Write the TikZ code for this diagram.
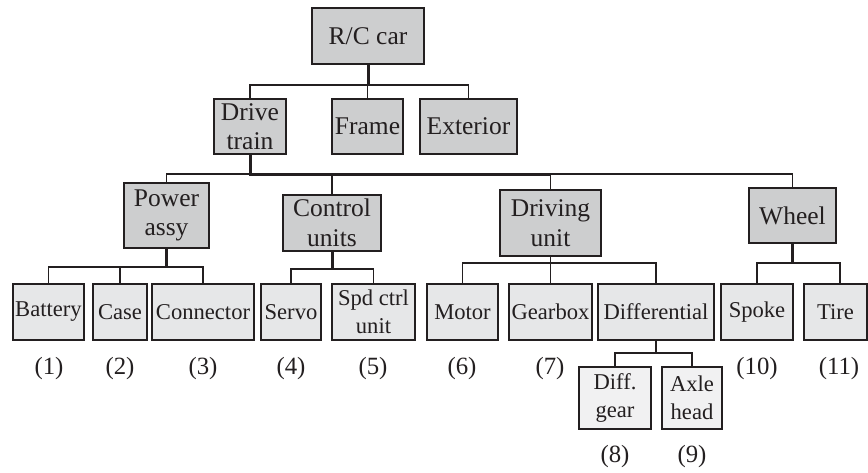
\documentclass[tikz,border=0pt]{standalone}
\usepackage{fontspec}
\setmainfont{Liberation Serif}
\definecolor{ink}{HTML}{231F20}
\definecolor{darkfill}{HTML}{CDCECF}
\definecolor{lightfill}{HTML}{E6E7E8}
\definecolor{palefill}{HTML}{F1F1F2}
\tikzset{
  x=1pt, y=-1pt,
  box/.style={draw=ink, text=ink, align=center, inner sep=0pt},
  upper/.style={box, fill=darkfill, line width=2.2pt,
    font=\fontsize{25.5pt}{29.5pt}\selectfont},
  part/.style={box, fill=lightfill, line width=1.8pt, minimum height=56pt,
    font=\fontsize{22.6pt}{28pt}\selectfont},
  sub/.style={box, fill=palefill, line width=1.4pt, minimum height=62pt,
    font=\fontsize{22.6pt}{28.5pt}\selectfont},
  link/.style={draw=ink, line width=1.3pt},
  stem/.style={draw=ink, line width=3pt},
  num/.style={text=ink, inner sep=0pt, font=\fontsize{24.8pt}{28pt}\selectfont}
}
\begin{document}
\begin{tikzpicture}
\useasboundingbox (0,0) rectangle (868,472);

% top level
\node[upper, minimum width=112pt, minimum height=56pt] (rc) at (368,36) {R/C car};

% first level
\node[upper, minimum width=72pt, minimum height=55pt] (drive) at (250,126.5) {Drive\\train};
\node[upper, minimum width=71pt, minimum height=55pt] (frame) at (367.5,126.5) {Frame};
\node[upper, minimum width=97pt, minimum height=55pt] (ext) at (468.5,126.5) {Exterior};

% second level
\node[upper, minimum width=85pt, minimum height=65pt] (power) at (166.5,215.5) {Power\\assy};
\node[upper, minimum width=98pt, minimum height=56pt] (control) at (332,223) {Control\\units};
\node[upper, minimum width=101pt, minimum height=66pt] (driving) at (550.5,223) {Driving\\unit};
\node[upper, minimum width=87pt, minimum height=55pt] (wheel) at (792.5,215.5) {Wheel};

% parts
\node[part, minimum width=71pt] (battery) at (48.5,312) {Battery};
\node[part, minimum width=54pt] (case) at (120,312) {Case};
\node[part, minimum width=102pt] (connector) at (203,312) {Connector};
\node[part, minimum width=60pt] (servo) at (291,312) {Servo};
\node[part, minimum width=83pt] (spd) at (373.5,312) {Spd ctrl\\unit};
\node[part, minimum width=71pt] (motor) at (462.5,312) {Motor};
\node[part, minimum width=83pt] (gearbox) at (550.5,312) {Gearbox};
\node[part, minimum width=116pt] (diff) at (656,312) {Differential};
\node[part, minimum width=72pt] (spoke) at (757,312) {Spoke};
\node[part, minimum width=63pt] (tire) at (835.5,312) {Tire};

% sub-parts of the differential
\node[sub, minimum width=72pt] (dgear) at (615,398) {Diff.\\gear};
\node[sub, minimum width=60pt] (axle) at (692,398) {Axle\\head};

% part numbers
\node[num] (n1) at (49,369) {(1)};
\node[num] (n2) at (120,369) {(2)};
\node[num] (n3) at (203,369) {(3)};
\node[num] (n4) at (291,369) {(4)};
\node[num] (n5) at (373,369) {(5)};
\node[num] (n6) at (462,369) {(6)};
\node[num] (n7) at (550,369) {(7)};
\node[num] (n10) at (757,369) {(10)};
\node[num] (n11) at (839,369) {(11)};
\node[num] (n8) at (615,457) {(8)};
\node[num] (n9) at (692,457) {(9)};

% junction rows
\coordinate (j0) at (0,85);
\coordinate (j1) at (0,174);
\coordinate (j2) at (0,267);
\coordinate (j3) at (0,269);
\coordinate (j4) at (0,263);
\coordinate (j5) at (0,263);
\coordinate (j6) at (0,353);
\coordinate (tiretop) at (840,284);

% R/C car
\draw[stem] (rc.south) -- (rc.south |- j0);
\draw[link] (drive.north) |- (ext.north |- j0) -- (ext.north);
\draw[link] (frame.north) -- (frame.north |- j0);

% drive train
\draw[link] (power.north) |- (wheel.north |- j1) -- (wheel.north);
\draw[link] (control.north) -- (control.north |- j1);
\draw[link] (driving.north) -- (driving.north |- j1);
\draw[stem] (drive.south) -- (drive.south |- j1) -- (driving.north |- j1);

% power assy
\draw[stem] (power.south) -- (power.south |- j2);
\draw[link] (battery.north) |- (connector.north |- j2) -- (connector.north);
\draw[link] (case.north) -- (case.north |- j2);

% control units
\draw[stem] (control.south) -- (control.south |- j3);
\draw[link] (servo.north) |- (spd.north |- j3) -- (spd.north);

% driving unit
\draw[link] (driving.south) -- (driving.south |- j4);
\draw[link] (motor.north) |- (diff.north |- j4) -- (diff.north);
\draw[link] (gearbox.north) -- (gearbox.north |- j4);

% wheel
\draw[stem] (wheel.south) -- (wheel.south |- j5);
\draw[link] (spoke.north) |- (tiretop |- j5) -- (tiretop);

% differential
\draw[stem, line width=2.2pt] (diff.south) -- (diff.south |- j6);
\draw[link] (dgear.north) |- (axle.north |- j6) -- (axle.north);
\end{tikzpicture}
\end{document}
